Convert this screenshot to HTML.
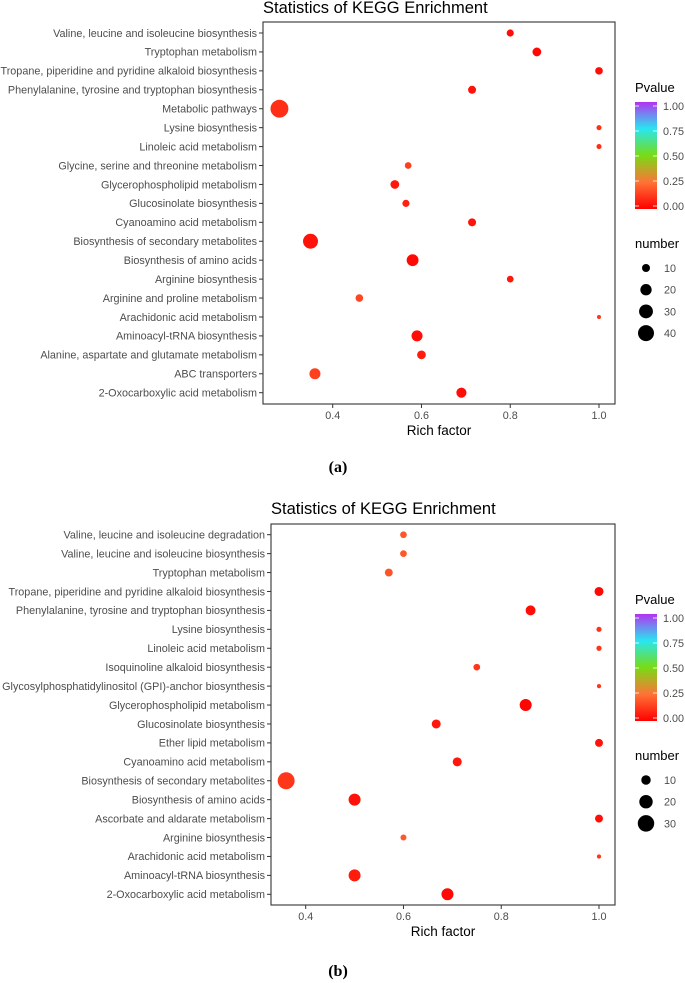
<!DOCTYPE html>
<html><head><meta charset="utf-8"><style>
html,body{margin:0;padding:0;background:#fff;}
svg{display:block;font-family:"Liberation Sans",Arial,sans-serif;}
</style></head><body>
<svg id="fig" width="685" height="983" viewBox="0 0 685 983"></svg>
<script>
// ---- Panel a data ----
const catsA = ["Valine, leucine and isoleucine biosynthesis","Tryptophan metabolism","Tropane, piperidine and pyridine alkaloid biosynthesis","Phenylalanine, tyrosine and tryptophan biosynthesis","Metabolic pathways","Lysine biosynthesis","Linoleic acid metabolism","Glycine, serine and threonine metabolism","Glycerophospholipid metabolism","Glucosinolate biosynthesis","Cyanoamino acid metabolism","Biosynthesis of secondary metabolites","Biosynthesis of amino acids","Arginine biosynthesis","Arginine and proline metabolism","Arachidonic acid metabolism","Aminoacyl-tRNA biosynthesis","Alanine, aspartate and glutamate metabolism","ABC transporters","2-Oxocarboxylic acid metabolism"];
const richA = [0.80,0.86,1.0,0.714,0.28,1.0,1.0,0.57,0.54,0.565,0.714,0.35,0.58,0.80,0.46,1.0,0.59,0.60,0.36,0.69];
const numA = [8,12,9,10,50,4,4,7,12,8,10,35,22,7,9,2.5,19,12,19,16];
const pA = [0.03,0.02,0.03,0.04,0.1,0.1,0.1,0.14,0.05,0.07,0.04,0.04,0.02,0.05,0.15,0.12,0.03,0.06,0.14,0.03];
const ticksA = [0.4,0.6,0.8,1.0];
const sizeLegA = [10,20,30,40];
// ---- Panel b data ----
const catsB = ["Valine, leucine and isoleucine degradation","Valine, leucine and isoleucine biosynthesis","Tryptophan metabolism","Tropane, piperidine and pyridine alkaloid biosynthesis","Phenylalanine, tyrosine and tryptophan biosynthesis","Lysine biosynthesis","Linoleic acid metabolism","Isoquinoline alkaloid biosynthesis","Glycosylphosphatidylinositol (GPI)-anchor biosynthesis","Glycerophospholipid metabolism","Glucosinolate biosynthesis","Ether lipid metabolism","Cyanoamino acid metabolism","Biosynthesis of secondary metabolites","Biosynthesis of amino acids","Ascorbate and aldarate metabolism","Arginine biosynthesis","Arachidonic acid metabolism","Aminoacyl-tRNA biosynthesis","2-Oxocarboxylic acid metabolism"];
const richB = [0.6,0.6,0.57,1.0,0.86,1.0,1.0,0.75,1.0,0.85,0.667,1.0,0.71,0.36,0.5,1.0,0.6,1.0,0.5,0.69];
const numB = [5,5,7,9,11,3,3,5,2,16,9,7,9,32,16,7,4,2,16,16];
const pB = [0.19,0.19,0.18,0.02,0.03,0.11,0.11,0.12,0.12,0.01,0.05,0.04,0.05,0.12,0.04,0.03,0.19,0.12,0.06,0.02];
const ticksB = [0.4,0.6,0.8,1.0];
const sizeLegB = [10,20,30];

const NS = "http://www.w3.org/2000/svg";
const svg = document.getElementById('fig');
function mk(tag, attrs, parent){const e=document.createElementNS(NS,tag);for(const k in attrs)e.setAttribute(k,attrs[k]);(parent||svg).appendChild(e);return e;}
const stops=[[0,[255,0,0]],[0.25,[255,115,55]],[0.5,[120,220,20]],[0.75,[40,230,240]],[1,[180,50,240]]];
function pcol(p){for(let i=0;i<stops.length-1;i++){const [a,ca]=stops[i],[b,cb]=stops[i+1];if(p<=b){const t=(p-a)/(b-a);return 'rgb('+ca.map((c,j)=>Math.round(c+(cb[j]-c)*t)).join(',')+')';}}return 'rgb(180,50,240)';}

function panel(o){
  const g = mk('g',{});
  
  
  const xs = v => o.x04 + (v-0.4)*(o.x10-o.x04)/0.6;
  const ys = i => o.y0 + i*(o.y1-o.y0)/(o.cats.length-1);
  const t = mk('text',{x:o.left,y:o.titleY,'font-size':16.5,fill:'#000'},g); t.textContent='Statistics of KEGG Enrichment';
   
  const fr = mk('rect',{x:o.left,y:o.top,width:o.right-o.left,height:o.bottom-o.top,fill:'none',stroke:'#333','stroke-width':1.1},g);
   
  o.cats.forEach((c,i)=>{
    const y=ys(i);
    mk('line',{x1:o.left-4,x2:o.left,y1:y,y2:y,stroke:'#333','stroke-width':1},g);
    const l=mk('text',{x:o.left-6,y:y+3.8,'font-size':10.8,fill:'#4d4d4d','text-anchor':'end'},g); l.textContent=c;
     
  });
  o.ticks.forEach(v=>{
    const x=xs(v);
    mk('line',{x1:x,x2:x,y1:o.bottom,y2:o.bottom+4,stroke:'#333','stroke-width':1},g);
    const l=mk('text',{x:x,y:o.bottom+15,'font-size':10.8,fill:'#4d4d4d','text-anchor':'middle'},g); l.textContent=v.toFixed(1);
     
  });
  const xt=mk('text',{x:(o.left+o.right)/2,y:o.bottom+31,'font-size':13.5,fill:'#000','text-anchor':'middle'},g); xt.textContent='Rich factor';
   
  o.rich.forEach((v,i)=>{
    const c=mk('circle',{cx:xs(v),cy:ys(i),r:o.k*Math.sqrt(o.num[i]),fill:pcol(o.p[i])},g);
     
  });
  const L=o.leg;
  const pt=mk('text',{x:635,y:L+12,'font-size':13,fill:'#000'},g); pt.textContent='Pvalue';
   
  const gid=o.id+'grad';
  const defs=mk('defs',{},g); const lg=mk('linearGradient',{id:gid,x1:0,y1:1,x2:0,y2:0},defs);
  stops.forEach(s=>mk('stop',{offset:s[0],'stop-color':'rgb('+s[1].join(',')+')'},lg));
  const cb=mk('rect',{x:635,y:L+22,width:22,height:107,fill:'url(#'+gid+')'},g);
   
  [0,0.25,0.5,0.75,1].forEach(v=>{
    const y=L+126-v*100;
    mk('line',{x1:635,x2:639,y1:y,y2:y,stroke:'#fff','stroke-width':0.8},g);
    mk('line',{x1:653,x2:657,y1:y,y2:y,stroke:'#fff','stroke-width':0.8},g);
    const l=mk('text',{x:663,y:y+4,'font-size':10.8,fill:'#4d4d4d'},g); l.textContent=v.toFixed(2);
     
  });
  const nt=mk('text',{x:635,y:L+168,'font-size':13,fill:'#000'},g); nt.textContent='number';
   
  o.sizes.forEach((n,i)=>{
    const y=L+188+i*21.7;
    const c=mk('circle',{cx:646,cy:y,r:o.k*Math.sqrt(n),fill:'#000'},g);
     
    const l=mk('text',{x:664,y:y+4,'font-size':10.8,fill:'#4d4d4d'},g); l.textContent=n;
     
  });
  const cap=mk('text',{x:o.capX,y:o.capY,'font-size':16,'font-weight':'bold','font-family':'Liberation Serif, serif',fill:'#000','text-anchor':'middle'},g); cap.textContent=o.cap;
   
}
panel({id:'a',cats:catsA,rich:richA,num:numA,p:pA,ticks:ticksA,sizes:sizeLegA,left:263,right:615,top:22,bottom:404,x04:332.7,x10:599,y0:33,y1:392.7,titleY:13,k:1.265,leg:80,cap:'(a)',capX:338,capY:472});
panel({id:'b',cats:catsB,rich:richB,num:numB,p:pB,ticks:ticksB,sizes:sizeLegB,left:271,right:615,top:524,bottom:905,x04:305.7,x10:599,y0:534.7,y1:894.3,titleY:514,k:1.5,leg:592,cap:'(b)',capX:338,capY:976});
</script>
</body></html>
